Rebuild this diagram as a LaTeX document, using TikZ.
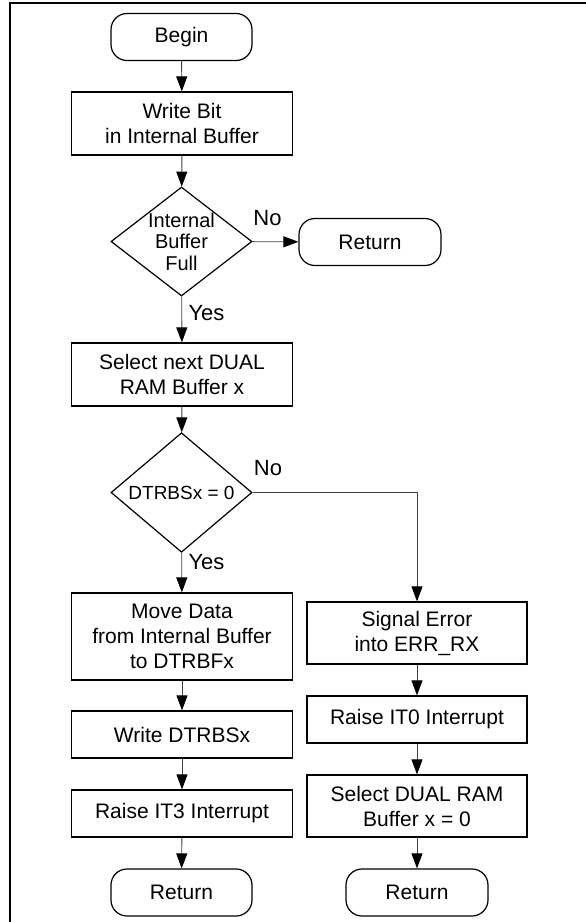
\documentclass[tikz,border=0pt]{standalone}
\usepackage{fontspec}
\setmainfont{Liberation Sans}
\usetikzlibrary{shapes.geometric,arrows.meta}
\begin{document}
\begin{tikzpicture}[x=1pt,y=-1pt,
  box/.style={draw=black, line width=1.2pt, rectangle, inner sep=0pt, align=center,
              font=\fontsize{21}{25}\selectfont, minimum width=221pt},
  term/.style={box, rounded corners=16pt, minimum width=141pt, minimum height=47pt},
  dec/.style={draw=black, line width=1.2pt, diamond, inner sep=0pt, align=center,
              font=\fontsize{19}{21.5}\selectfont, minimum width=141pt, minimum height=109pt},
  conn/.style={draw=black!75, line width=0.9pt, -{Triangle[length=15pt,width=11pt,color=black]}},
  lbl/.style={inner sep=0pt, font=\fontsize{22}{25}\selectfont}]
\useasboundingbox (0,0) rectangle (586,922);
% frame (top and left edges only)
\draw[line width=2.3pt] (10.3,922) -- (10.3,2.8) -- (586,2.8);

% left column
\node[term] (begin) at (181.5,37) {Begin};
\node[box, minimum height=63pt] (write) at (182,123.5) {Write Bit\\in Internal Buffer};
\node[dec, font=\fontsize{20}{21.5}\selectfont, shape aspect=1.3, inner sep=-6pt] (d1) at (181.5,241.5) {Internal\\Buffer\\Full};
\node[term, minimum width=142pt] (ret1) at (370,242) {Return};
\node[box, minimum height=63pt] (sel) at (182,374.5) {Select next DUAL\\RAM Buffer x};
\node[dec] (d2) at (181.5,492.5) {DTRBSx = 0};
\node[box, minimum height=87pt] (move) at (182,636.5) {Move Data\\from Internal Buffer\\to DTRBFx};
\node[box, minimum height=47pt] (wr) at (182,734.5) {Write DTRBSx};
\node[box, minimum height=47pt] (it3) at (182,813.5) {Raise IT3 Interrupt};
\node[term] (ret2) at (181.5,892.5) {Return};

% right column
\node[box, minimum width=220pt, minimum height=62pt] (sig) at (417,633) {Signal Error\\into ERR\_RX};
\node[box, minimum width=220pt, minimum height=47pt] (it0) at (417,719.5) {Raise IT0 Interrupt};
\node[box, minimum width=220pt, minimum height=62pt] (seld) at (417,806) {Select DUAL RAM\\Buffer x = 0};
\node[term, minimum width=142pt] (ret3) at (417,892.5) {Return};

% labels
\node[lbl] (no1) at (267.5,218) {No};
\node[lbl] (yes1) at (206.5,313) {Yes};
\node[lbl] (no2) at (268,468) {No};
\node[lbl] (yes2) at (206.5,562) {Yes};

% connectors
\draw[conn] (begin) -- (write);
\draw[conn] (write) -- (d1);
\draw[conn] (d1) -- (ret1);
\draw[conn] (d1) -- (sel);
\draw[conn] (sel) -- (d2);
\draw[conn] (d2) -- (move);
\draw[conn] (d2.east) -| (sig.north);
\draw[conn] (move) -- (wr);
\draw[conn] (wr) -- (it3);
\draw[conn] (it3) -- (ret2);
\draw[conn] (sig) -- (it0);
\draw[conn] (it0) -- (seld);
\draw[conn] (seld) -- (ret3);
\end{tikzpicture}
\end{document}
